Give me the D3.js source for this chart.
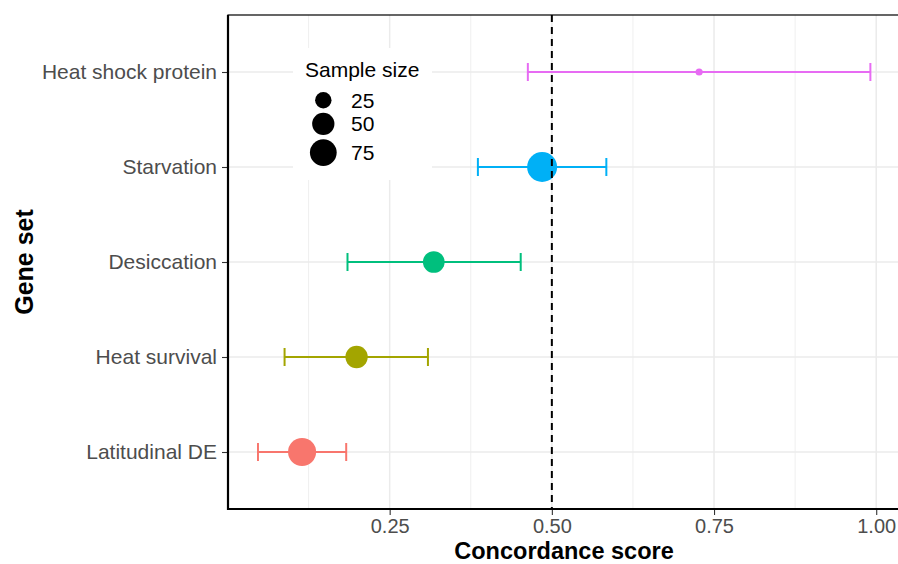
<!DOCTYPE html>
<html>
<head>
<meta charset="utf-8">
<script src="https://cdn.jsdelivr.net/npm/d3@7"></script>
<style>
  body { margin: 0; background: #fff; }
  svg { display: block; font-family: "Liberation Sans", Arial, Helvetica, sans-serif; }
</style>
</head>
<body>
<div id="chart"></div>
<script>
// gene sets, bottom to top
var geneSets = ["Latitudinal DE", "Heat survival", "Desiccation", "Starvation", "Heat shock protein"];
var estimates = [0.115, 0.199, 0.318, 0.485, 0.727];
var ciLow = [0.047, 0.088, 0.185, 0.386, 0.463];
var ciHigh = [0.183, 0.309, 0.452, 0.584, 0.991];
var sampleSizes = [83, 50, 47, 96, 3];
var setColors = ["#F8766D", "#A3A500", "#00BF7D", "#00B0F6", "#E76BF3"];
var xTicks = [0.25, 0.50, 0.75, 1.00];
var xMinorTicks = [0.125, 0.375, 0.625, 0.875];
var legendSizes = [25, 50, 75];
var threshold = 0.5;

var width = 898, height = 564;
var plot = { left: 228, top: 15, right: 901, bottom: 509 };

var rows = geneSets.map(function (g, i) {
    return { set: g, est: estimates[i], lo: ciLow[i], hi: ciHigh[i], n: sampleSizes[i], color: setColors[i] };
});

// 5% expansion like ggplot
var lo = d3.min(ciLow), hi = d3.max(ciHigh);
var pad = (hi - lo) * 0.05;

var x = d3.scaleLinear()
    .domain([lo - pad + 0.001, hi + pad])
    .range([plot.left, plot.right]);

var y = d3.scalePoint()
    .domain(geneSets.slice().reverse())
    .range([plot.top, plot.bottom])
    .padding(0.6);

var r = d3.scaleSqrt()
    .domain([d3.min(sampleSizes), d3.max(sampleSizes)])
    .range([3.6, 15]);

var svg = d3.select("#chart").append("svg")
    .attr("width", width)
    .attr("height", height);

// grid
var grid = svg.append("g").attr("class", "grid");
grid.selectAll(".minor")
    .data(xMinorTicks)
    .enter().append("line")
    .attr("x1", d => x(d)).attr("x2", d => x(d))
    .attr("y1", plot.top).attr("y2", plot.bottom)
    .style("stroke", "#ebebeb").style("stroke-width", 0.8);
grid.selectAll(".major")
    .data(xTicks)
    .enter().append("line")
    .attr("x1", d => x(d)).attr("x2", d => x(d))
    .attr("y1", plot.top).attr("y2", plot.bottom)
    .style("stroke", "#ebebeb").style("stroke-width", 1.5);
grid.selectAll(".hgrid")
    .data(geneSets)
    .enter().append("line")
    .attr("x1", plot.left).attr("x2", plot.right)
    .attr("y1", d => y(d)).attr("y2", d => y(d))
    .style("stroke", "#ebebeb").style("stroke-width", 1.5);

// legend background (drawn inside the panel, covers grid)
var legend = svg.append("g").attr("class", "legend");
legend.append("rect")
    .attr("x", 293).attr("y", 48)
    .attr("width", 139).attr("height", 132)
    .style("fill", "#fff");

// error bars
var bars = svg.append("g").selectAll(".errbar")
    .data(rows)
    .enter().append("g")
    .attr("class", "errbar")
    .style("stroke", d => d.color)
    .style("stroke-width", 2);

bars.append("line")
    .attr("x1", d => x(d.lo)).attr("x2", d => x(d.hi))
    .attr("y1", d => y(d.set)).attr("y2", d => y(d.set));
bars.append("line")
    .attr("x1", d => x(d.lo)).attr("x2", d => x(d.lo))
    .attr("y1", d => y(d.set) - 9).attr("y2", d => y(d.set) + 9);
bars.append("line")
    .attr("x1", d => x(d.hi)).attr("x2", d => x(d.hi))
    .attr("y1", d => y(d.set) - 9).attr("y2", d => y(d.set) + 9);

// points
svg.append("g").selectAll("circle")
    .data(rows)
    .enter().append("circle")
    .attr("cx", d => x(d.est))
    .attr("cy", d => y(d.set))
    .attr("r", d => r(d.n))
    .style("fill", d => d.color);

// dashed reference line
svg.append("line")
    .attr("x1", x(threshold)).attr("x2", x(threshold))
    .attr("y1", plot.top).attr("y2", plot.bottom)
    .style("stroke", "#000")
    .style("stroke-width", 2)
    .style("stroke-dasharray", "7,5");

// legend contents
legend.append("text")
    .attr("x", 305).attr("y", 77)
    .text("Sample size")
    .style("font-size", "21px")
    .style("fill", "#000");

var keyY = 100.3;
var keys = [];
legendSizes.forEach(function (s, i) {
    if (i > 0) keyY += r(legendSizes[i - 1]) + r(s) + 4.2;
    keys.push({ n: s, cy: keyY });
});

var key = legend.selectAll(".key")
    .data(keys)
    .enter().append("g")
    .attr("class", "key");
key.append("circle")
    .attr("cx", 323.3)
    .attr("cy", d => d.cy)
    .attr("r", d => r(d.n))
    .style("fill", "#000");
key.append("text")
    .attr("x", 351)
    .attr("y", d => d.cy)
    .attr("dy", "0.36em")
    .text(d => d.n)
    .style("font-size", "21px")
    .style("fill", "#000");

// axes
var xAxis = svg.append("g")
    .attr("transform", "translate(0," + plot.bottom + ")")
    .call(d3.axisBottom(x).tickValues(xTicks).tickFormat(d3.format(".2f")).tickSize(6).tickPadding(4));
var yAxis = svg.append("g")
    .attr("transform", "translate(" + plot.left + ",0)")
    .call(d3.axisLeft(y).tickSize(6).tickPadding(5));

[xAxis, yAxis].forEach(function (a) {
    a.select(".domain").remove();
    a.selectAll(".tick line").style("stroke", "#333333").style("stroke-width", 1.1);
    a.selectAll(".tick text")
        .style("font-size", "21px")
        .style("fill", "#4d4d4d")
        .style("font-family", "\"Liberation Sans\", Arial, Helvetica, sans-serif");
});
xAxis.selectAll(".tick text").style("font-size", "20px");

// panel border + axis lines
svg.append("rect")
    .attr("x", plot.left).attr("y", plot.top)
    .attr("width", plot.right - plot.left)
    .attr("height", plot.bottom - plot.top)
    .style("fill", "none")
    .style("stroke", "#000")
    .style("stroke-width", 1.2);
svg.append("path")
    .attr("d", "M" + plot.left + "," + plot.top + "V" + plot.bottom + "H" + plot.right)
    .style("fill", "none")
    .style("stroke", "#000")
    .style("stroke-width", 2.2);

// titles
svg.append("text")
    .attr("x", 564).attr("y", 559)
    .attr("text-anchor", "middle")
    .text("Concordance score")
    .style("font-size", "23.5px")
    .style("font-weight", "bold");

svg.append("text")
    .attr("transform", "translate(33,262) rotate(-90)")
    .attr("text-anchor", "middle")
    .text("Gene set")
    .style("font-size", "25px")
    .style("font-weight", "bold");
</script>
</body>
</html>
